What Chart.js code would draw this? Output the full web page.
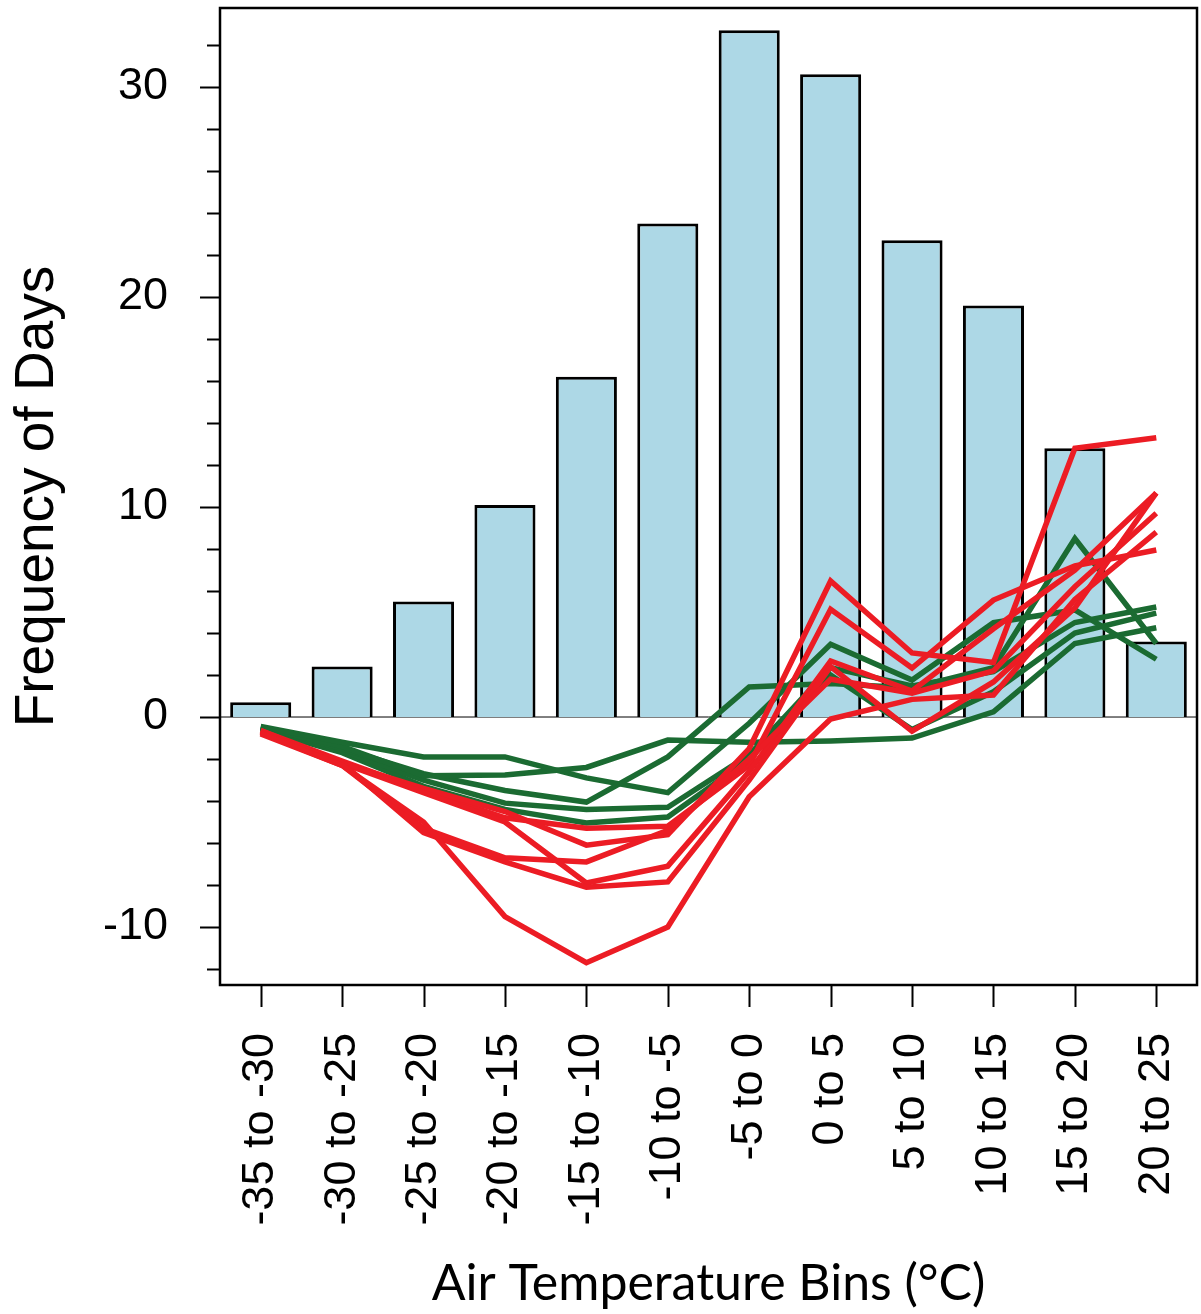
<!DOCTYPE html>
<html>
<head>
<meta charset="utf-8">
<script src="https://cdn.jsdelivr.net/npm/chart.js@4/dist/chart.umd.min.js"></script>
<style>
  html, body { margin: 0; padding: 0; background: #fff; }
  #wrap { width: 1201px; height: 1314px; }
</style>
</head>
<body>
<div id="wrap"><canvas id="chart" width="1201" height="1314"></canvas></div>
<script>
var bins = ["-35 to -30", "-30 to -25", "-25 to -20", "-20 to -15", "-15 to -10", "-10 to -5",
            "-5 to 0", "0 to 5", "5 to 10", "10 to 15", "15 to 20", "20 to 25"];

var daysFreq = [0.7, 2.4, 5.5, 10.1, 16.2, 23.5, 32.7, 30.6, 22.7, 19.6, 12.8, 3.6];

// green lines
var green1 = [-0.45, -1.2, -1.9, -1.9, -2.9, -3.6, -0.3, 3.46, 1.76, 4.49, 5.1, 2.75];
var green2 = [-0.5, -1.4, -2.8, -2.76, -2.4, -1.1, -1.2, -1.14, -1.0, 0.25, 3.5, 4.25];
var green3 = [-0.5, -1.5, -2.7, -3.5, -4.05, -1.9, 1.43, 1.6, 1.38, 2.35, 8.5, 3.5];
var green4 = [-0.55, -1.6, -3.0, -4.1, -4.4, -4.3, -1.8, 2.35, 1.48, 2.16, 4.5, 5.24];
var green5 = [-0.6, -1.7, -3.3, -4.4, -5.05, -4.76, -2.0, 2.0, -0.6, 1.2, 4.0, 4.95];

// red lines
var red1 = [-0.8, -2.3, -5.0, -9.5, -11.7, -10.0, -3.8, -0.1, 0.84, 1.05, 5.6, 8.8];
var red2 = [-0.75, -2.3, -5.3, -6.7, -6.9, -5.4, -2.0, 1.8, 1.14, 2.2, 6.2, 9.7];
var red3 = [-0.7, -2.2, -5.5, -6.9, -8.1, -7.85, -3.0, 2.4, -0.67, 1.67, 5.2, 10.67];
var red4 = [-0.7, -2.2, -3.6, -5.0, -7.9, -7.1, -2.6, 2.67, 1.24, 4.2, 7.0, 10.67];
var red5 = [-0.65, -2.2, -3.4, -4.5, -6.1, -5.6, -1.5, 6.48, 3.05, 2.6, 12.8, 13.3];
var red6 = [-0.65, -2.1, -3.5, -4.8, -5.3, -5.2, -2.3, 5.13, 2.33, 5.57, 7.2, 7.95];

var yMin = -12.76;
var yMax = 33.76;

var greenColor = '#1b6b32';
var redColor = '#ec1c24';

function lineSet(data, color, order){
  return {
    type: 'line',
    data: data,
    borderColor: color,
    backgroundColor: color,
    borderWidth: 5.5,
    pointRadius: 0,
    tension: 0,
    fill: false,
    order: order
  };
}

var datasets = [{
  type: 'bar',
  data: daysFreq,
  backgroundColor: '#add8e6',
  borderColor: '#000',
  borderWidth: 3,
  barPercentage: 0.75,
  categoryPercentage: 1,
  order: 3
}];

[green1, green2, green3, green4, green5].forEach(function(g){
  datasets.push(lineSet(g, greenColor, 2));
});
[red1, red2, red3, red4, red5, red6].forEach(function(r){
  datasets.push(lineSet(r, redColor, 1));
});

// frame, zero line and tick marks
var framePlugin = {
  id: 'frame',
  beforeDatasetsDraw: function(chart){
    var ctx = chart.ctx;
    var area = chart.chartArea;
    var y0 = chart.scales.y.getPixelForValue(0);
    ctx.save();
    ctx.strokeStyle = '#000';
    ctx.lineWidth = 1;
    ctx.beginPath();
    ctx.moveTo(area.left, y0);
    ctx.lineTo(area.right, y0);
    ctx.stroke();
    ctx.restore();
  },
  afterDraw: function(chart){
    var ctx = chart.ctx;
    var area = chart.chartArea;
    var ys = chart.scales.y;
    var xs = chart.scales.x;
    ctx.save();
    ctx.strokeStyle = '#000';
    ctx.lineWidth = 2.5;
    ctx.strokeRect(area.left, area.top, area.right - area.left, area.bottom - area.top);
    ctx.lineWidth = 2;
    ctx.beginPath();
    for (var v = -12; v <= 32; v += 2){
      var py = Math.round(ys.getPixelForValue(v)) + 0.5;
      var len = (v % 10 == 0) ? 20 : 13;
      ctx.moveTo(area.left, py);
      ctx.lineTo(area.left - len, py);
    }
    for (var i = 0; i < bins.length; i++){
      var px = Math.round(xs.getPixelForValue(i)) + 0.5;
      ctx.moveTo(px, area.bottom);
      ctx.lineTo(px, area.bottom + 22);
    }
    ctx.stroke();
    ctx.restore();
  }
};

function noPadding(scale){
  scale.paddingLeft = 0;
  scale.paddingRight = 0;
  scale.paddingTop = 0;
  scale.paddingBottom = 0;
}

Chart.defaults.font.family = '"Liberation Sans", Arial, sans-serif';
Chart.defaults.color = '#000';

new Chart(document.getElementById('chart'), {
  type: 'bar',
  data: { labels: bins, datasets: datasets },
  options: {
    responsive: false,
    animation: false,
    layout: { padding: { top: 8, right: 4, bottom: 0, left: 0 } },
    plugins: {
      legend: { display: false },
      tooltip: { enabled: false }
    },
    scales: {
      x: {
        offset: true,
        grid: { display: false, drawTicks: false },
        border: { display: false },
        ticks: {
          autoSkip: false,
          minRotation: 90,
          maxRotation: 90,
          padding: 48,
          font: { size: 45 }
        },
        title: {
          display: true,
          text: 'Air Temperature Bins (°C)',
          font: { family: 'Lato, "Open Sans", sans-serif', size: 50 },
          padding: { top: 0, bottom: 0 }
        },
        afterFit: function(scale){
          scale.height = 329;
          noPadding(scale);
        }
      },
      y: {
        min: yMin,
        max: yMax,
        grid: { display: false, drawTicks: false },
        border: { display: false },
        ticks: {
          autoSkip: false,
          stepSize: 2,
          padding: 52,
          font: { size: 45 },
          callback: function(value){
            var r = Math.round(value);
            if (Math.abs(value - r) < 1e-6 && r % 10 == 0) return String(r);
            return '';
          }
        },
        title: {
          display: true,
          text: 'Frequency of Days',
          font: { size: 55 },
          padding: { top: 5, bottom: 0 }
        },
        afterFit: function(scale){
          scale.width = 220;
          noPadding(scale);
        }
      }
    }
  },
  plugins: [framePlugin]
});
</script>
</body>
</html>
